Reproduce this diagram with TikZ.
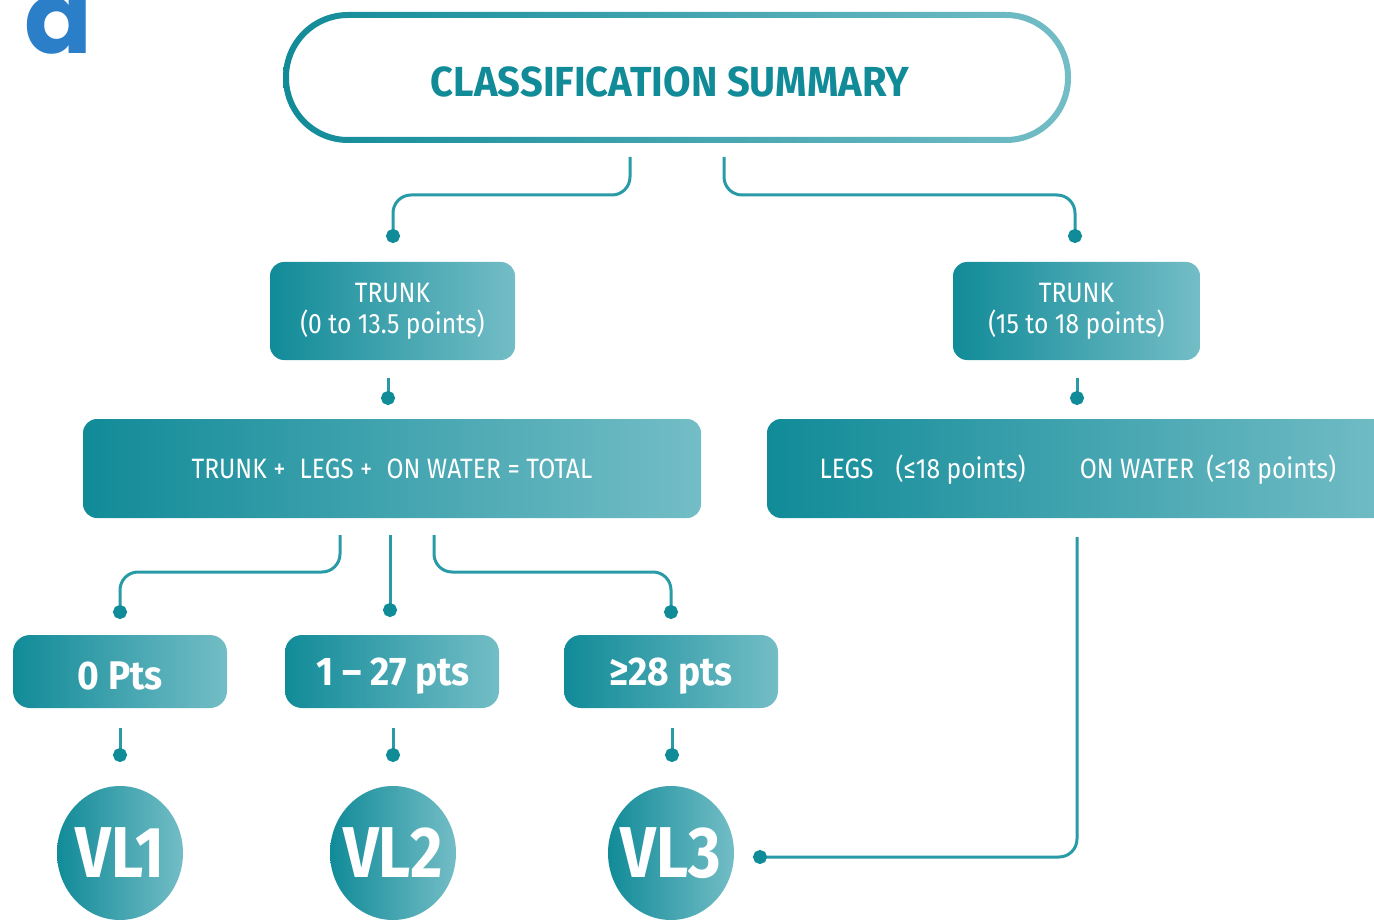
\documentclass[tikz,border=0pt]{standalone}
\usepackage{fontspec}
\setmainfont{Fira Sans}[FakeStretch=0.88]
\newfontfamily\titlefont{Fira Sans}[FakeStretch=0.95]
\newfontfamily\ptsfont{Fira Sans}[FakeStretch=0.93]
\newfontfamily\vlfont{Fira Sans}[FakeStretch=0.87]
\newfontfamily\popfont{Poppins}
\usetikzlibrary{arrows.meta,calc,shapes.geometric}
\definecolor{tdark}{RGB}{17,139,152}
\definecolor{tlight}{RGB}{115,189,198}
\definecolor{tline}{RGB}{40,155,167}
\definecolor{tdot}{RGB}{16,140,153}
\definecolor{ablue}{RGB}{43,126,200}
\begin{document}
\begin{tikzpicture}[x=1pt,y=-1pt,
  box/.style={rounded corners=14pt, left color=tdark, right color=tlight, draw=none, text=white, align=center, inner sep=0pt},
  smallbox/.style={box, rounded corners=17pt, minimum width=214, minimum height=73, text depth=0pt},
  ptstext/.style={text=white, inner sep=0pt, font=\ptsfont\bfseries\fontsize{40}{44}\selectfont},
  vl/.style={ellipse, left color=tdark, right color=tlight, draw=none, inner sep=0pt, minimum width=126, minimum height=134},
  vltext/.style={text=white, inner sep=0pt, font=\vlfont\bfseries\fontsize{72}{72}\selectfont},
  conn/.style={draw=tline, line width=3pt, rounded corners=18pt, -{Circle[length=14pt,width=14pt,color=tdot]}},
  small/.style={font=\fontsize{28}{31}\selectfont}
]
\useasboundingbox (0,0) rectangle (1374,920);

% panel letter
\node[anchor=base west, inner sep=0pt, text=ablue, font=\popfont\bfseries\fontsize{100}{100}\selectfont] (lettera) at (24,54) {a};

% title frame
\shade[left color=tdark, right color=tlight, even odd rule, rounded corners=65pt]
  (283,12) rectangle (1071,143) [rounded corners=59pt] (289,18) rectangle (1065,137);
\node[text=tdark, inner sep=0pt, font=\titlefont\bfseries\fontsize{42}{44}\selectfont] (title) at (670,82) {CLASSIFICATION SUMMARY};

% trunk boxes
\node[box, small, minimum width=245, minimum height=98] (trL) at (392.5,311) {TRUNK\\(0 to 13.5 points)};
\node[box, small, minimum width=247, minimum height=98] (trR) at (1076.5,311) {TRUNK\\(15 to 18 points)};

% wide boxes
\node[box, small, minimum width=618, minimum height=99] (total) at (392,468.5) {TRUNK +\enspace LEGS +\enspace ON WATER = TOTAL};
\node[box, minimum width=633, minimum height=99] (limits) at (1083.5,468.5) {};
\node[small, text=white, inner sep=0pt] (legs) at (922.5,470) {LEGS\hspace{22pt}(≤18 points)};
\node[small, text=white, inner sep=0pt] (water) at (1208,470) {ON WATER\hspace{12pt}(≤18 points)};

% score boxes
\node[smallbox] (p0) at (120,671.5) {};
\node[smallbox] (p1) at (392,671.5) {};
\node[smallbox] (p2) at (671,671.5) {};
\node[ptstext] (p0t) at (120,676) {0 Pts};
\node[ptstext] (p1t) at (393,676) {1 – 27 pts};
\node[ptstext] (p2t) at (671,676) {≥28 pts};

% classes
\node[vl] (vl1) at (120,853) {};
\node[vl] (vl2) at (393,853) {};
\node[vl] (vl3) at (671,853) {};
\node[vltext] (vl1t) at (120,853) {VL1};
\node[vltext] (vl2t) at (393,853) {VL2};
\node[vltext] (vl3t) at (671,853) {VL3};

% connector coordinates
\coordinate (s1) at (630,157);
\coordinate (s2) at (724,157);
\coordinate (e1) at (393,243);
\coordinate (e2) at (1075,243);
\coordinate (s3) at (388,378);
\coordinate (e3) at (388,405);
\coordinate (s4) at (1077,378);
\coordinate (e4) at (1077,405);
\coordinate (s5) at (340,535);
\coordinate (s6) at (390,535);
\coordinate (s7) at (434,535);
\coordinate (e5) at (120,619);
\coordinate (e6) at (390,617);
\coordinate (e7) at (671,619);
\coordinate (s8) at (120,728);
\coordinate (e8) at (120,762);
\coordinate (s9) at (393,728);
\coordinate (e9) at (393,762);
\coordinate (s10) at (672,728);
\coordinate (e10) at (672,762);
\coordinate (s11) at (1077,537);
\coordinate (e11) at (753,857);

\draw[conn] (s1) -- ++(0,38) -| (e1);
\draw[conn] (s2) -- ++(0,38) -| (e2);
\draw[conn] (s3) -- (e3);
\draw[conn] (s4) -- (e4);
\draw[conn] (s5) -- ++(0,37) -| (e5);
\draw[conn] (s6) -- (e6);
\draw[conn] (s7) -- ++(0,37) -| (e7);
\draw[conn] (s8) -- (e8);
\draw[conn] (s9) -- (e9);
\draw[conn] (s10) -- (e10);
\draw[conn] (s11) |- (e11);
\end{tikzpicture}
\end{document}
